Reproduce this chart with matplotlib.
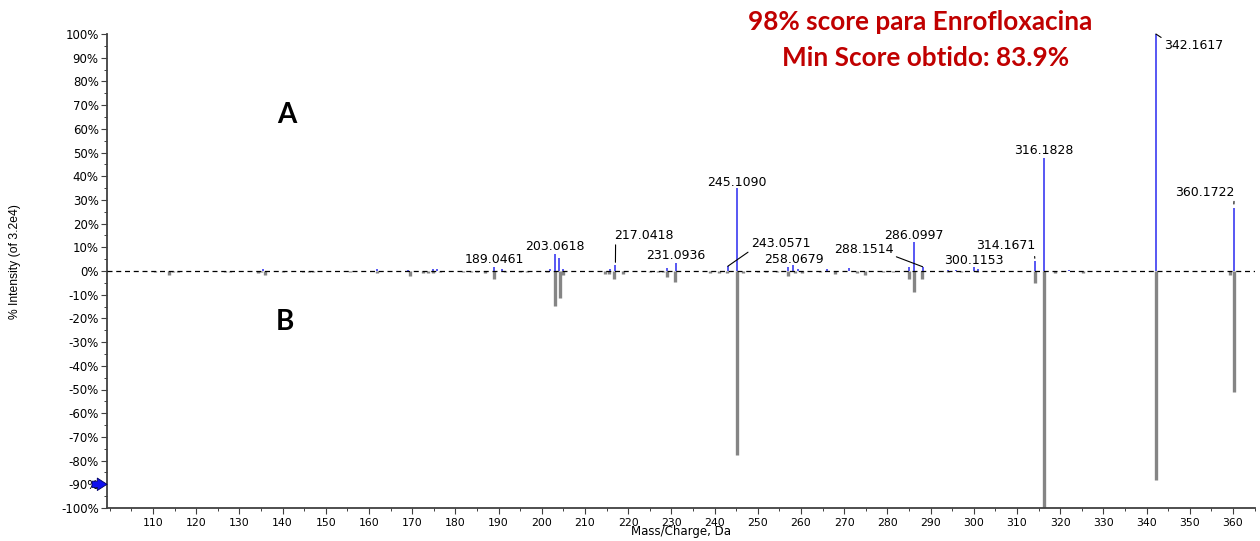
import matplotlib
matplotlib.use("Agg")
import matplotlib.pyplot as plt
from matplotlib.ticker import MultipleLocator, FuncFormatter

# ---------------- data ----------------
# library spectrum (B, drawn downward, grey)
gray_mz = [110.5, 113.8, 114.6, 115.8, 126.7, 127.8, 134.2, 135.0, 136.0, 140.0,
           144.7, 146.0, 147.0, 155.6, 161.9, 169.5, 172.5, 173.6, 174.8, 176.4,
           181.8, 183.5, 185.0, 186.9, 188.9, 191.5, 195.0, 196.6, 201.2, 203.0,
           204.1, 204.8, 214.6, 215.5, 216.8, 218.7, 225.0, 227.0, 228.0, 228.9,
           230.9, 239.0, 241.0, 242.8, 245.1, 246.6, 250.0, 252.0, 254.5, 257.0,
           258.6, 260.2, 264.4, 267.9, 272.9, 274.8, 279.0, 281.3, 285.1, 286.1,
           288.1, 294.0, 297.0, 300.7, 314.2, 316.2, 318.8, 325.2, 342.2, 359.3,
           360.2]
gray_int = [0.5, 1.5, 0.6, 0.5, 0.5, 0.5, 0.8, 0.6, 1.5, 0.5,
            0.5, 0.5, 0.5, 0.5, 0.7, 2.0, 1.0, 1.0, 0.8, 0.5,
            0.5, 0.5, 0.5, 0.8, 3.4, 0.5, 0.5, 0.5, 0.5, 14.8,
            11.5, 1.5, 1.2, 1.2, 3.5, 1.2, 0.5, 0.5, 0.5, 2.7,
            4.6, 0.7, 0.7, 1.0, 77.6, 1.0, 0.5, 0.5, 0.5, 2.1,
            0.7, 0.7, 0.5, 1.2, 1.0, 1.8, 0.5, 0.5, 3.5, 8.7,
            3.5, 0.5, 0.5, 0.5, 5.2, 100.0, 0.8, 1.0, 88.2, 1.5,
            51.0]

# measured spectrum (A, drawn upward, blue)
blue_mz = [135.5, 161.9, 169.0, 174.8, 175.7, 189.0461, 190.8, 202.0, 203.0618, 204.06,
           204.9, 215.8, 217.0418, 228.9, 231.0936, 243.0571, 245.1090, 257.0, 258.0679, 259.3,
           266.0, 271.0, 285.0, 286.0997, 288.1514, 294.0, 296.0, 300.1153, 301.0, 314.1671,
           316.1828, 322.0, 342.1617, 360.1722]
blue_int = [1.0, 0.8, 0.5, 1.0, 1.0, 1.7, 0.8, 1.0, 7.2, 5.6,
            1.0, 1.0, 2.5, 1.2, 3.5, 2.0, 34.9, 1.8, 2.4, 0.8,
            0.8, 1.2, 1.5, 12.4, 1.8, 0.6, 0.6, 1.5, 0.8, 4.2,
            47.7, 0.5, 100.0, 26.5]

label_mz = [189.0461, 203.0618, 217.0418, 231.0936, 243.0571, 245.1090, 258.0679,
            286.0997, 288.1514, 300.1153, 314.1671, 316.1828, 342.1617, 360.1722]

title_lines = ["98% score para Enrofloxacina", "Min Score obtido: 83.9%"]
x_ticks = list(range(110, 361, 10))
y_ticks = list(range(-100, 101, 10))

# ---------------- style ----------------
# label placement: (dx px, dy px to baseline, ha, leader (style, relpos, shrinkA, shrinkB))
label_style = {
    189.0461: (0, 4, "center", None),
    203.0618: (0, 3.5, "center", None),
    217.0418: (-1, 26, "left", ("-", (0.02, 0.0), 0, 2)),
    231.0936: (0, 3.5, "center", None),
    243.0571: (23, 19, "left", ("-", (0.0, 0.0), 0, 0)),
    245.1090: (0, 2.5, "center", None),
    258.0679: (1, 2.6, "center", None),
    286.0997: (0, 2.7, "center", None),
    288.1514: (-29, 14, "right", ("-", (1.0, 0.0), 0, 0)),
    300.1153: (0, 3, "center", None),
    314.1671: (0, 11.7, "right", ("--", (0.99, 0.0), 1, 2)),
    316.1828: (0, 3.7, "center", None),
    342.1617: (8, -15.3, "left", ("-", (0.0, 1.0), 0, 0)),
    360.1722: (1, 12.6, "right", ("--", (0.99, 0.0), 0, 3)),
}

W, H = 1260, 541
fig = plt.figure(figsize=(W / 100, H / 100), dpi=100)
ax = fig.add_axes([107 / W, 1 - 508 / H, (1255 - 107) / W, (508 - 34) / H])

blue = "#2a2af0"
grey = "#858585"

ax.vlines(gray_mz, 0, [-v for v in gray_int], colors=grey, linewidth=2.4,
          capstyle="butt", zorder=2)
ax.vlines(blue_mz, 0, blue_int, colors=blue, linewidth=1.1, capstyle="butt", zorder=3)
ax.axhline(0, color="black", linestyle=(0, (4, 3)), linewidth=0.9, zorder=4)

for mz in label_mz:
    inten = blue_int[blue_mz.index(mz)]
    dx, dy, ha, leader = label_style[mz]
    kw = {}
    if leader is not None:
        ls, relpos, sa, sb = leader
        kw["arrowprops"] = dict(arrowstyle="-", color="black", lw=0.8, linestyle=ls,
                                relpos=relpos, shrinkA=sa, shrinkB=sb)
    ax.annotate(f"{mz:.4f}", xy=(mz, inten), xytext=(dx, dy),
                textcoords="offset pixels", ha=ha, va="baseline",
                fontsize=9, family="DejaVu Sans", color="black",
                annotation_clip=False, zorder=5, **kw)

ax.set_xlim(99.35, 365.1)
ax.set_ylim(-100, 100)
ax.set_xticks(x_ticks)
ax.set_yticks(y_ticks)
ax.xaxis.set_minor_locator(MultipleLocator(5))
ax.yaxis.set_minor_locator(MultipleLocator(5))
ax.yaxis.set_major_formatter(FuncFormatter(lambda v, p: f"{int(v)}%"))
ax.tick_params(axis="x", which="major", length=4, width=0.8, color="#404040",
               labelsize=7.8, pad=3)
ax.tick_params(axis="y", which="major", length=4, width=0.8, color="#404040",
               labelsize=8.5, pad=2)
ax.tick_params(which="minor", length=2, width=0.7, color="#404040")
for lab in ax.get_xticklabels() + ax.get_yticklabels():
    lab.set_family("DejaVu Sans")

for s in ["top", "right"]:
    ax.spines[s].set_visible(False)
for s in ["left", "bottom"]:
    ax.spines[s].set_color("#404040")
    ax.spines[s].set_linewidth(1.3)

fig.text(681 / W, 1 - 532 / H, "Mass/Charge, Da", fontsize=8.5, family="DejaVu Sans",
         ha="center", va="center")
fig.text(15 / W, 1 - 262 / H, "% Intensity (of 3.2e4)", rotation=90, ha="center",
         va="center", fontsize=8.7, family="Liberation Sans")

# blue arrow marker at -90%
ax.annotate("", xy=(0.0, -90), xycoords=("axes fraction", "data"),
            xytext=(-15, 0), textcoords="offset pixels",
            arrowprops=dict(arrowstyle="simple,head_width=0.9,head_length=0.7,tail_width=0.45",
                            fc="#1010ee", ec="#000060", lw=0.6, shrinkA=0, shrinkB=0),
            annotation_clip=False, zorder=6)

# panel letters
fig.text(287 / W, 1 - 115 / H, "A", fontsize=20, fontweight="bold", family="Lato",
         ha="center", va="center")
fig.text(285 / W, 1 - 322 / H, "B", fontsize=20, fontweight="bold", family="Lato",
         ha="center", va="center")

# red header
fig.text(920 / W, 1 - 22 / H, title_lines[0], fontsize=18.8, fontweight="bold",
         family="Lato", color="#c00000", ha="center", va="center")
fig.text(926 / W, 1 - 58 / H, title_lines[1], fontsize=18.8, fontweight="bold",
         family="Lato", color="#c00000", ha="center", va="center")

fig.savefig("out.png", dpi=100)
